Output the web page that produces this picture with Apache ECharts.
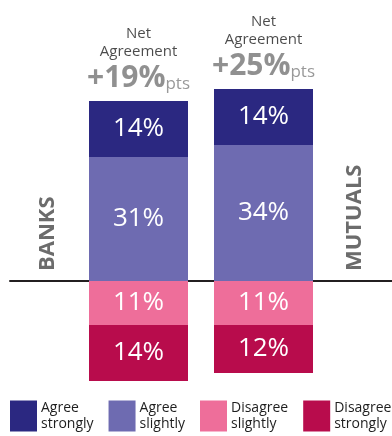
<!DOCTYPE html>
<html>
<head>
<meta charset="utf-8">
<script src="https://cdn.jsdelivr.net/npm/echarts@6/dist/echarts.min.js"></script>
<style>
  html, body { margin: 0; padding: 0; background: #ffffff; }
  #chart { width: 392px; height: 436px; }
</style>
</head>
<body>
<div id="chart"></div>
<script>
// Survey responses by institution type (percent of respondents)
const categories = ['BANKS', 'MUTUALS'];
const seriesNames = ['Agree strongly', 'Agree slightly', 'Disagree slightly', 'Disagree strongly'];
const agreeStrongly = [14, 14];
const agreeSlightly = [31, 34];
const disagreeSlightly = [-11, -11];
const disagreeStrongly = [-14, -12];
const netAgreement = [19, 25];

const colors = {
  'Agree strongly': '#2b2881',
  'Agree slightly': '#6e6bb1',
  'Disagree slightly': '#ee6e9a',
  'Disagree strongly': '#b80c4c'
};

const FONT = '"Open Sans", "Noto Sans", sans-serif';
const Y_MIN = -30, Y_MAX = 50;
const GRID_TOP = 81, GRID_BOTTOM = 35;

function barSeries(name, values) {
  return {
    name: name,
    type: 'bar',
    stack: 'total',
    xAxisIndex: 0,
    yAxisIndex: 0,
    barWidth: 99,
    data: values,
    itemStyle: { color: colors[name] },
    label: {
      show: true,
      position: 'inside',
      color: '#ffffff',
      fontFamily: FONT,
      fontSize: 26,
      formatter: p => Math.abs(p.value) + '%'
    }
  };
}

const chart = echarts.init(document.getElementById('chart'), null, { renderer: 'canvas' });

chart.setOption({
  animation: false,
  textStyle: { fontFamily: FONT },
  grid: [
    { left: 76, right: 66, top: GRID_TOP, bottom: GRID_BOTTOM },
    { left: 10, right: 0, top: GRID_TOP, bottom: GRID_BOTTOM }
  ],
  xAxis: [
    {
      type: 'category', gridIndex: 0, data: categories,
      axisLine: { show: false }, axisTick: { show: false }, axisLabel: { show: false }
    },
    {
      // full-width baseline at zero
      type: 'value', gridIndex: 1, min: 0, max: 1,
      axisLine: { show: true, onZero: true, lineStyle: { color: '#231f20', width: 2 } },
      axisTick: { show: false }, axisLabel: { show: false }, splitLine: { show: false }
    }
  ],
  yAxis: [
    { type: 'value', gridIndex: 0, min: Y_MIN, max: Y_MAX, show: false },
    { type: 'value', gridIndex: 1, min: Y_MIN, max: Y_MAX, show: false }
  ],
  legend: {
    data: seriesNames,
    left: 10,
    bottom: 4,
    width: 420,
    padding: 0,
    itemGap: 15,
    itemWidth: 27,
    itemHeight: 31,
    icon: 'rect',
    formatter: name => name.replace(' ', '\n'),
    textStyle: { color: '#1e1e1e', fontSize: 14, lineHeight: 16, fontFamily: FONT, padding: [0, 0, 0, -1] }
  },
  series: [
    barSeries('Agree slightly', agreeSlightly),
    barSeries('Agree strongly', agreeStrongly),
    barSeries('Disagree slightly', disagreeSlightly),
    barSeries('Disagree strongly', disagreeStrongly),
    {
      name: 'Net agreement',
      type: 'scatter',
      xAxisIndex: 0,
      yAxisIndex: 0,
      symbolSize: 0,
      z: 5,
      data: categories.map((c, i) => [i, agreeStrongly[i] + agreeSlightly[i]]),
      label: {
        show: true,
        position: 'top',
        distance: 6,
        align: 'center',
        formatter: p => '{a|Net}\n{a|Agreement}\n{b|+' + netAgreement[p.dataIndex] + '%}{c|pts}',
        rich: {
          a: { fontSize: 15, color: '#1e1e1e', lineHeight: 18, fontFamily: FONT, align: 'center' },
          b: { fontSize: 30, fontWeight: 'bold', color: '#747474', lineHeight: 34, fontFamily: FONT },
          c: { fontSize: 17, color: '#808080', lineHeight: 34, fontFamily: FONT, verticalAlign: 'bottom', padding: [0, 0, 2, 0] }
        }
      }
    }
  ]
});

// Vertical category names beside each bar, sitting just above the zero line
const zeroY = chart.convertToPixel({ yAxisIndex: 0 }, 0);
const sideOffsets = [-91, 91.5];
chart.setOption({
  graphic: categories.map((name, i) => ({
    type: 'text',
    x: chart.convertToPixel({ xAxisIndex: 0 }, i) + sideOffsets[i],
    y: zeroY - 10,
    rotation: Math.PI / 2,
    style: {
      text: name,
      fill: '#6c6c6c',
      font: 'bold 22px ' + FONT,
      align: 'left',
      verticalAlign: 'middle'
    }
  }))
});
</script>
</body>
</html>
